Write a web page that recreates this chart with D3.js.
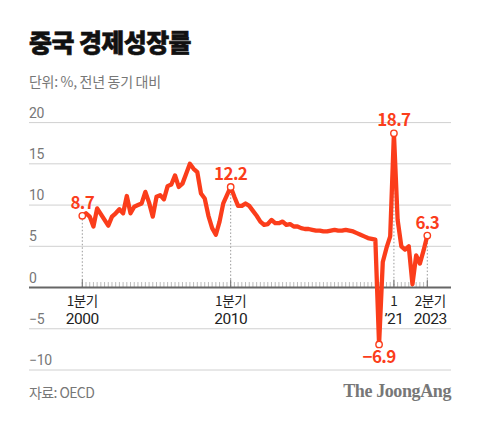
<!DOCTYPE html>
<html><head><meta charset="utf-8">
<script src="https://cdn.jsdelivr.net/npm/d3@7"></script>
<style>
body{margin:0;background:#fff;}
svg{display:block;font-family:"Noto Sans CJK KR","Noto Sans",sans-serif;}
</style></head>
<body>
<svg id="c" width="480" height="421"></svg>
<script>
// Quarterly GDP growth (% YoY), 2000 Q1 .. 2023 Q2
const startYear = 2000;
const growth = [
  8.7, 9.0, 8.6, 7.4,   // 2000
  9.6, 8.9, 8.2, 7.5,   // 2001
  8.6, 9.0, 9.5, 9.0,   // 2002
  11.1, 9.0, 9.8, 10.0, // 2003
  10.2, 11.6, 10.3, 8.6,// 2004
  11.0, 11.2, 10.7, 12.3,// 2005
  12.5, 13.6, 12.2, 12.6,// 2006
  13.8, 15.0, 14.4, 14.0,// 2007
  11.4, 10.8, 8.7, 7.2, // 2008
  6.4, 8.0, 10.2, 11.2, // 2009
  12.2, 11.0, 9.9, 9.9, // 2010
  10.2, 9.9, 9.3, 8.7,  // 2011
  8.0, 7.6, 7.7, 8.2,   // 2012
  7.8, 7.8, 8.0, 7.6,   // 2013
  7.7, 7.4, 7.4, 7.2,   // 2014
  7.1, 7.1, 7.0, 6.9,   // 2015
  6.9, 6.8, 6.8, 6.9,   // 2016
  7.0, 6.9, 6.9, 7.0,   // 2017
  6.9, 6.8, 6.6, 6.4,   // 2018
  6.2, 6.0, 5.9, 5.8,   // 2019
  -6.9, 3.1, 4.8, 6.2,  // 2020
  18.7, 8.2, 5.0, 4.6,  // 2021
  5.0, 0.4, 3.9, 2.9,   // 2022
  4.5, 6.3              // 2023
];
const quarters = growth.map((_, i) => `${startYear + Math.floor(i / 4)}Q${i % 4 + 1}`);
const yTicks = [20, 15, 10, 5, 0, -5, -10];
const xLabels = [
  {q: "2000Q1", l1: "1분기", l2: "2000"},
  {q: "2010Q1", l1: "1분기", l2: "2010"},
  {q: "2021Q1", l1: "1", l2: "’21"},
  {q: "2023Q2", l1: "2분기", l2: "2023"}
];
const callouts = [
  {q: "2000Q1", pos: "above"},
  {q: "2010Q1", pos: "above"},
  {q: "2020Q1", pos: "below"},
  {q: "2021Q1", pos: "above"},
  {q: "2023Q2", pos: "above"}
];

const RED = "#fb3d1b";
const svg = d3.select("#c");
const left = 29, right = 451;
const x = d3.scaleLinear().domain([0, quarters.length - 1]).range([82.3, 427.3]);
const y = d3.scaleLinear().domain([-10, 20]).range([370, 122.6]);
const xi = q => x(quarters.indexOf(q));
const fmt = v => (v < 0 ? "−" : "") + Math.abs(v).toFixed(1);

// title
svg.append("text").attr("x", left).attr("y", 52).text("중국 경제성장률")
  .attr("font-size", 25).attr("font-weight", 900).attr("fill", "#111").attr("letter-spacing", -0.6)
  .attr("stroke", "#111").attr("stroke-width", 0.6);
svg.append("text").attr("x", left).attr("y", 87).text("단위: %, 전년 동기 대비")
  .attr("font-size", 14).attr("fill", "#777").attr("letter-spacing", -0.3);

// grid
const grid = svg.append("g");
yTicks.forEach(t => {
  if (t !== 0) grid.append("line").attr("x1", left).attr("x2", right)
    .attr("y1", y(t)).attr("y2", y(t)).attr("stroke", "#d0d0d0").attr("stroke-width", 1);
  grid.append("text").attr("x", left).attr("y", y(t) - 5)
    .text(t < 0 ? "−" + Math.abs(t) : t)
    .attr("font-family", "Roboto, 'Liberation Sans', sans-serif")
    .attr("font-size", 14).attr("fill", "#777").attr("letter-spacing", -0.3);
});

// minor ticks (one per quarter)
svg.append("g").selectAll("line").data(quarters).join("line")
  .attr("x1", (d, i) => x(i)).attr("x2", (d, i) => x(i))
  .attr("y1", y(0) - 5.5).attr("y2", y(0))
  .attr("stroke", "#aaa").attr("stroke-width", 0.8);

// dotted guides
svg.append("g").selectAll("line").data(callouts.filter(c => c.pos === "above")).join("line")
  .attr("x1", d => xi(d.q)).attr("x2", d => xi(d.q))
  .attr("y1", d => y(growth[quarters.indexOf(d.q)])).attr("y2", y(0))
  .attr("stroke", "#999").attr("stroke-width", 1).attr("stroke-dasharray", "1.5,2");

// major ticks
svg.append("g").selectAll("line").data(xLabels).join("line")
  .attr("x1", d => xi(d.q)).attr("x2", d => xi(d.q))
  .attr("y1", y(0) - 8).attr("y2", y(0))
  .attr("stroke", "#777").attr("stroke-width", 1);

// zero axis
svg.append("line").attr("x1", left).attr("x2", right).attr("y1", y(0)).attr("y2", y(0))
  .attr("stroke", "#666").attr("stroke-width", 2);

// x labels
const xl = svg.append("g").attr("fill", "#222").attr("text-anchor", "middle");
xLabels.forEach(d => {
  const cx = xi(d.q) + (d.q === "2023Q2" ? 3 : 0);
  xl.append("text").attr("x", cx).attr("y", y(0) + 18).text(d.l1)
    .attr("font-size", 13.5).attr("letter-spacing", -0.4);
  xl.append("text").attr("x", cx).attr("y", y(0) + 36).text(d.l2)
    .attr("font-family", "Roboto, 'Liberation Sans', sans-serif")
    .attr("font-size", 15.5).attr("letter-spacing", -0.5);
});

// line
const line = d3.line().x((d, i) => x(i)).y(d => y(d)).curve(d3.curveLinear);
svg.append("path").datum(growth).attr("d", line)
  .attr("fill", "none").attr("stroke", RED).attr("stroke-width", 4.3)
  .attr("stroke-linejoin", "round").attr("stroke-linecap", "round");

// callouts
const cg = svg.append("g");
callouts.forEach(c => {
  const i = quarters.indexOf(c.q), v = growth[i];
  cg.append("circle").attr("cx", x(i)).attr("cy", y(v)).attr("r", 3.2)
    .attr("fill", "#fff").attr("stroke", RED).attr("stroke-width", 1.4);
  cg.append("text").attr("x", x(i)).attr("y", c.pos === "above" ? y(v) - 7 : y(v) + 19)
    .attr("text-anchor", "middle").text(fmt(v))
    .attr("font-size", 17).attr("font-weight", 700).attr("fill", RED).attr("letter-spacing", -0.6);
});

// footer
svg.append("text").attr("x", left).attr("y", 398).text("자료: OECD")
  .attr("font-size", 14).attr("fill", "#777").attr("letter-spacing", -0.6);
svg.append("text").attr("x", right).attr("y", 397).attr("text-anchor", "end").text("The JoongAng")
  .attr("font-family", "'Liberation Serif','DejaVu Serif',serif").attr("font-weight", 700)
  .attr("font-size", 18).attr("fill", "#777").attr("letter-spacing", -0.4);
</script>
</body></html>
